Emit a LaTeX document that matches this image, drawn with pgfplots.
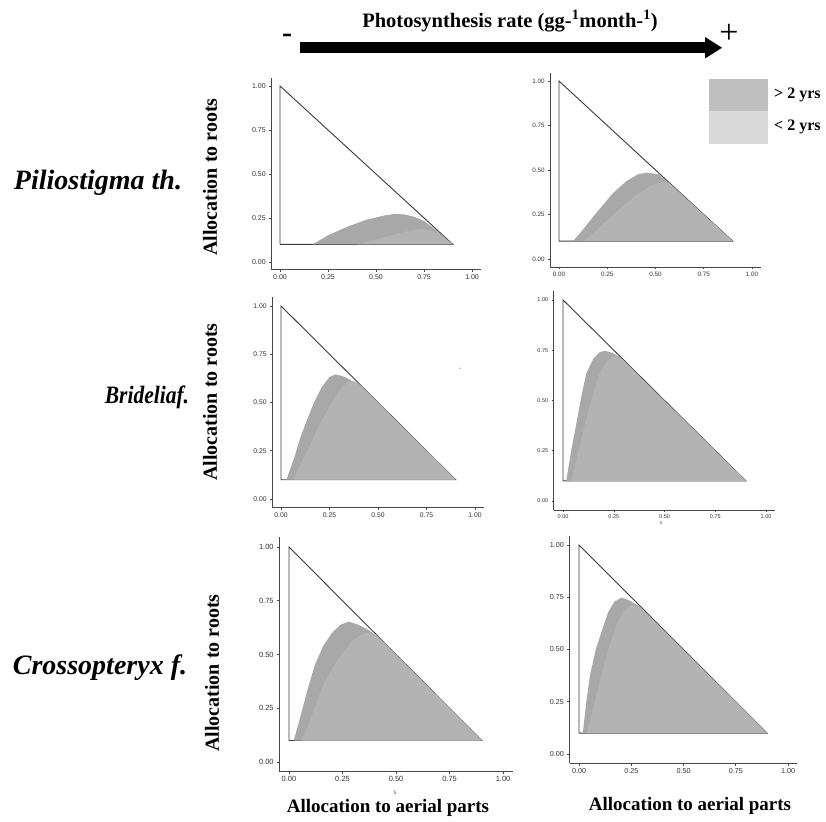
\documentclass[border=0pt]{standalone}
\usepackage{pgfplots}
\pgfplotsset{compat=1.18}
\usepackage{fontspec}
\setmainfont{Liberation Serif}
\setsansfont{Liberation Sans}
\definecolor{dk}{RGB}{168,168,168}
\definecolor{lt}{RGB}{179,179,179}
\definecolor{lgdk}{RGB}{191,191,191}
\definecolor{lglt}{RGB}{217,217,217}
\definecolor{axc}{RGB}{70,70,70}
\definecolor{tri}{RGB}{60,60,60}
\pgfplotsset{
  panel/.style={
    scale only axis, anchor=south west,
    axis lines=left,
    axis line style={-, line width=0.9pt, color=axc},
    xmin=-0.045, xmax=1.045, ymin=-0.045, ymax=1.045,
    xtick={0,0.25,0.5,0.75,1}, ytick={0,0.25,0.5,0.75,1},
    xticklabels={0.00,0.25,0.50,0.75,1.00},
    yticklabels={0.00,0.25,0.50,0.75,1.00},
    tick align=outside, major tick length=2.2pt,
    tick style={color=axc, line width=0.6pt},
    ticklabel style={text=black!80},
    xticklabel style={yshift=1pt},
    clip=false,
  },
  outline/.style={draw=tri, line width=0.9pt},
}
\begin{document}
\begin{tikzpicture}
\path[use as bounding box, fill=white] (0,0) rectangle (826pt,-821pt);

% ---------- header ----------
\node[font=\fontsize{20.5}{24}\selectfont\bfseries] at (510pt,-21pt) {Photosynthesis rate (gg-\textsuperscript{1}month-\textsuperscript{1})};
\fill (300pt,-42.5pt) rectangle (708pt,-53pt);
\fill (705pt,-37pt) -- (722pt,-47.75pt) -- (705pt,-58.5pt) -- cycle;
\node[font=\fontsize{30}{32}\selectfont\bfseries] at (287pt,-38pt) {-};
\node[font=\fontsize{34}{36}\selectfont] at (729pt,-34pt) {+};

% ---------- legend ----------
\fill[lgdk] (709pt,-79pt) rectangle (768pt,-111pt);
\fill[lglt] (709pt,-111pt) rectangle (768pt,-144pt);
\node[anchor=west, font=\fontsize{16}{18}\selectfont\bfseries, inner sep=0pt] at (774pt,-95pt) {> 2 yrs};
\node[anchor=west, font=\fontsize{16}{18}\selectfont\bfseries, inner sep=0pt] at (774pt,-127pt) {< 2 yrs};

% ---------- row labels ----------
\node[font=\fontsize{28}{30}\selectfont\bfseries\itshape] at (98pt,-183pt) {Piliostigma th.};
\node[font=\fontsize{25}{30}\selectfont\bfseries\itshape] at (147pt,-397pt) {\scalebox{0.86}[1]{Brideliaf.}};
\node[font=\fontsize{28}{30}\selectfont\bfseries\itshape] at (100pt,-668pt) {Crossopteryx f.};
\node[rotate=90, font=\fontsize{20}{22}\selectfont\bfseries] at (210pt,-177pt) {Allocation to roots};
\node[rotate=90, font=\fontsize{20}{22}\selectfont\bfseries] at (210pt,-402pt) {Allocation to roots};
\node[rotate=90, font=\fontsize{20}{22}\selectfont\bfseries] at (212pt,-673pt) {Allocation to roots};
\node[font=\fontsize{19}{21}\selectfont\bfseries] at (388pt,-808pt) {Allocation to aerial parts};
\node[font=\fontsize{19}{21}\selectfont\bfseries] at (690pt,-806pt) {Allocation to aerial parts};
\node[font=\fontsize{6.5}{7}\sffamily, text=black!60] at (395pt,-793pt) {s};
\node[font=\fontsize{5.5}{6}\sffamily, text=black!60] at (661pt,-523pt) {s};
\node[font=\fontsize{7}{7}\sffamily, text=black!60] at (460pt,-369pt) {-};

% ---------- panel 1 ----------
\begin{axis}[panel, at={(271.4pt,-269.9pt)}, width=209.3pt, height=191.8pt,
  ticklabel style={font=\fontsize{7}{8}\sffamily}]
\addplot[outline] coordinates {(0,0.1) (0,1) (0.9,0.1) (0,0.1)};
\addplot[fill=dk, draw=none] coordinates {(0.17,0.1) (0.25,0.152) (0.35,0.2) (0.45,0.24) (0.55,0.266) (0.60,0.273) (0.65,0.27) (0.70,0.256) (0.75,0.232) (0.80,0.192) (0.85,0.146) (0.9,0.1)} -- cycle;
\addplot[fill=lt, draw=none] coordinates {(0.40,0.1) (0.5,0.128) (0.6,0.157) (0.68,0.18) (0.74,0.188) (0.79,0.18) (0.85,0.142) (0.9,0.1)} -- cycle;
\end{axis}

% ---------- panel 2 ----------
\begin{axis}[panel, at={(550.3pt,-267pt)}, width=210.4pt, height=194pt,
  ticklabel style={font=\fontsize{6.3}{7}\sffamily}]
\addplot[outline] coordinates {(0,0.1) (0,1) (0.9,0.1) (0,0.1)};
\addplot[fill=dk, draw=none] coordinates {(0.073,0.1) (0.12,0.16) (0.2,0.268) (0.28,0.37) (0.35,0.438) (0.41,0.476) (0.455,0.485) (0.49,0.48) (0.52,0.475) (0.9,0.1)} -- cycle;
\addplot[fill=lt, draw=none] coordinates {(0.13,0.1) (0.2,0.168) (0.3,0.268) (0.4,0.358) (0.47,0.41) (0.52,0.428) (0.55,0.432) (0.57,0.428) (0.9,0.1)} -- cycle;
\end{axis}

% ---------- panel 3 ----------
\begin{axis}[panel, at={(272.3pt,-507.7pt)}, width=211.5pt, height=210.4pt,
  ticklabel style={font=\fontsize{6.8}{7}\sffamily}]
\addplot[outline] coordinates {(0,0.1) (0,1) (0.9,0.1) (0,0.1)};
\addplot[fill=dk, draw=none] coordinates {(0.028,0.1) (0.07,0.22) (0.1,0.32) (0.13,0.4) (0.17,0.5) (0.21,0.58) (0.25,0.632) (0.28,0.646) (0.32,0.636) (0.37,0.61) (0.415,0.584) (0.9,0.1)} -- cycle;
\addplot[fill=lt, draw=none] coordinates {(0.062,0.1) (0.1,0.18) (0.15,0.28) (0.2,0.39) (0.25,0.48) (0.3,0.56) (0.34,0.603) (0.365,0.613) (0.395,0.603) (0.9,0.1)} -- cycle;
\end{axis}

% ---------- panel 4 ----------
\begin{axis}[panel, at={(553.9pt,-510pt)}, width=221.3pt, height=219.1pt,
  ticklabel style={font=\fontsize{5.5}{6}\sffamily}]
\addplot[outline] coordinates {(0,0.1) (0,1) (0.9,0.1) (0,0.1)};
\addplot[fill=dk, draw=none] coordinates {(0.016,0.1) (0.04,0.25) (0.066,0.387) (0.09,0.52) (0.115,0.636) (0.15,0.71) (0.18,0.74) (0.206,0.747) (0.24,0.738) (0.28,0.716) (0.9,0.1)} -- cycle;
\addplot[fill=lt, draw=none] coordinates {(0.04,0.1) (0.07,0.22) (0.1,0.35) (0.125,0.45) (0.15,0.54) (0.18,0.632) (0.21,0.69) (0.24,0.716) (0.265,0.72) (0.29,0.706) (0.9,0.1)} -- cycle;
\end{axis}

% ---------- panel 5 ----------
\begin{axis}[panel, at={(279.4pt,-771.7pt)}, width=233.3pt, height=234.4pt,
  ticklabel style={font=\fontsize{7.5}{8}\sffamily}]
\addplot[outline] coordinates {(0,0.1) (0,1) (0.9,0.1) (0,0.1)};
\addplot[fill=dk, draw=none] coordinates {(0.022,0.1) (0.05,0.2) (0.084,0.328) (0.12,0.45) (0.16,0.54) (0.2,0.6) (0.24,0.638) (0.278,0.653) (0.32,0.64) (0.37,0.615) (0.418,0.582) (0.9,0.1)} -- cycle;
\addplot[fill=lt, draw=none] coordinates {(0.06,0.1) (0.1,0.2) (0.16,0.36) (0.21,0.45) (0.255,0.514) (0.3,0.568) (0.348,0.597) (0.375,0.6) (0.4,0.597) (0.9,0.1)} -- cycle;
\end{axis}

% ---------- panel 6 ----------
\begin{axis}[panel, at={(569.6pt,-763.4pt)}, width=227.8pt, height=227.8pt,
  ticklabel style={font=\fontsize{7.2}{8}\sffamily}]
\addplot[outline] coordinates {(0,0.1) (0,1) (0.9,0.1) (0,0.1)};
\addplot[fill=dk, draw=none] coordinates {(0.018,0.1) (0.035,0.25) (0.053,0.379) (0.08,0.5) (0.108,0.586) (0.14,0.68) (0.17,0.73) (0.204,0.748) (0.24,0.735) (0.29,0.706) (0.9,0.1)} -- cycle;
\addplot[fill=lt, draw=none] coordinates {(0.037,0.1) (0.07,0.23) (0.108,0.379) (0.14,0.5) (0.18,0.618) (0.21,0.678) (0.25,0.713) (0.295,0.702) (0.9,0.1)} -- cycle;
\end{axis}
\end{tikzpicture}
\end{document}
